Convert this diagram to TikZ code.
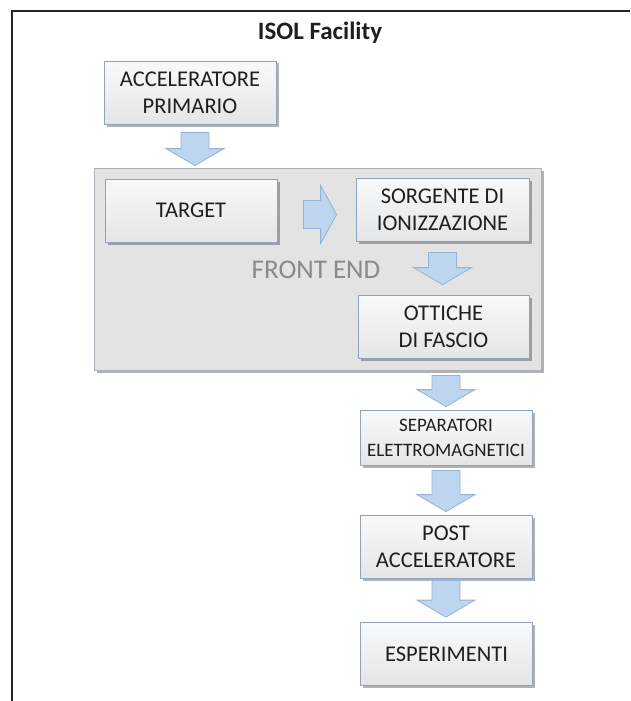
\documentclass[tikz,border=0pt]{standalone}
\usepackage{fontspec}
\setmainfont{Carlito}
\usetikzlibrary{calc,shadows}

\definecolor{boxline}{HTML}{8FA4BA}
\definecolor{boxtop}{HTML}{F8F9FA}
\definecolor{boxbottom}{HTML}{E3E5E8}
\definecolor{panelfill}{HTML}{E3E3E3}
\definecolor{panelline}{HTML}{A9B3BD}
\definecolor{arrowfill}{HTML}{BDD5EE}
\definecolor{arrowline}{HTML}{94B3D6}
\definecolor{labelgray}{HTML}{8A8A8A}
\definecolor{inkcol}{HTML}{1F1F1F}

% block arrows: #1 = start of shaft, #2 = tip
\newcommand{\blockdown}[2]{%
  \draw[blockarrow] let \p1=#1, \p2=#2 in
    (\x1-14pt,\y1) -- (\x1-14pt,\y2+17pt) -- (\x1-29pt,\y2+17pt) -- (\x1,\y2)
    -- (\x1+29pt,\y2+17pt) -- (\x1+14pt,\y2+17pt) -- (\x1+14pt,\y1) -- cycle;}
\newcommand{\blockright}[2]{%
  \draw[blockarrow] let \p1=#1, \p2=#2 in
    (\x1,\y1+14pt) -- (\x2-16pt,\y1+14pt) -- (\x2-16pt,\y1+29pt) -- (\x2,\y1)
    -- (\x2-16pt,\y1-29pt) -- (\x2-16pt,\y1-14pt) -- (\x1,\y1-14pt) -- cycle;}

\begin{document}
\begin{tikzpicture}[x=1pt,y=-1pt,
    stage/.style={rectangle, draw=boxline, line width=0.8pt,
      top color=boxtop, bottom color=boxbottom, text=inkcol, align=center,
      minimum width=172pt, minimum height=63pt, inner sep=0pt,
      font=\fontsize{22.5}{27}\selectfont,
      drop shadow={shadow xshift=2.5pt, shadow yshift=-2.5pt, fill=black, opacity=0.3}},
    panel/.style={rectangle, draw=panelline, line width=0.8pt, fill=panelfill,
      minimum width=447pt, minimum height=202pt, inner sep=0pt,
      drop shadow={shadow xshift=2.5pt, shadow yshift=-2.5pt, fill=black, opacity=0.3}},
    blockarrow/.style={fill=arrowfill, draw=arrowline, line width=0.8pt, line join=miter}]
        \useasboundingbox (0,0) rectangle (630,701);

        % Frame and title
        \draw [line width=1.3pt, black!85] (12,701) -- (12,11) -- (630,11);
        \node [font=\bfseries\fontsize{25}{30}\selectfont, text=inkcol, anchor=base] (title) at (320,40) {ISOL Facility};

        % Front end panel
        \node [panel] (fe) at (317.5,269) {};
        \node [font=\fontsize{27}{32}\selectfont, text=labelgray] (felabel) at (316,270) {FRONT END};

        % Stages
        \node [stage] (acc) at (190,92.5) {ACCELERATORE\\PRIMARIO};
        \node [stage] (target) at (191,210.5) {TARGET};
        \node [stage, minimum width=173pt] (src) at (442.5,209.5) {SORGENTE DI\\IONIZZAZIONE};
        \node [stage, minimum width=171pt] (ott) at (443.5,326.5) {OTTICHE\\DI FASCIO};
        \node [stage, minimum height=55pt, font=\fontsize{19}{25}\selectfont] (sep) at (446,437.5) {SEPARATORI\\ELETTROMAGNETICI};
        \node [stage] (post) at (446,546.5) {POST\\ACCELERATORE};
        \node [stage] (esp) at (446.5,654) {ESPERIMENTI};

        % Draw block arrows
        \blockdown{($(acc.south)+(5,8)$)}{($(acc.south |- fe.north)+(5,-2)$)}
        \blockright{($(target.east)+(26,4)$)}{($(src.west)+(-19,0)$)}
        \blockdown{($(src.south)+(0,11)$)}{($(ott.north)+(0,-10)$)}
        \blockdown{($(sep.north |- fe.south)+(0,5)$)}{($(sep.north)+(0,-3)$)}
        \blockdown{($(sep.south)+(0,5)$)}{($(post.north)+(0,-3)$)}
        \blockdown{($(post.south)+(0,2)$)}{($(esp.north)+(0,-5)$)}
    \end{tikzpicture}
\end{document}
